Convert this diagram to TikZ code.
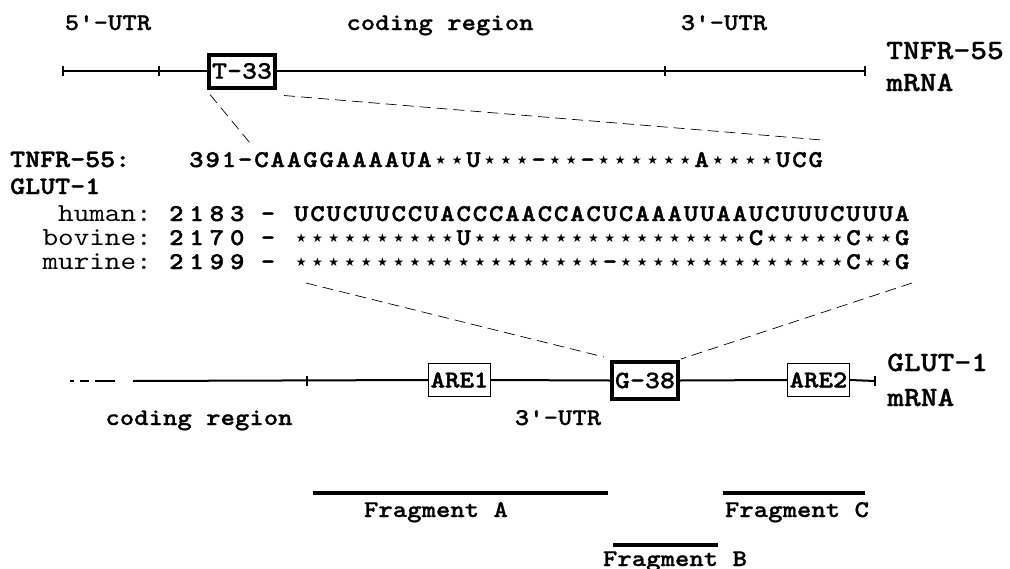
\documentclass[tikz,border=0pt]{standalone}
\usepackage{fontspec}
\newfontfamily\cb{lmmonolt10-bold}[Extension=.otf, FakeStretch=1.143, FakeBold=0.8]
\newfontfamily\cseq{lmmonolt10-bold}[Extension=.otf, FakeStretch=1.143, FakeBold=1.6]
\newfontfamily\creg{lmmono10-regular}[Extension=.otf, FakeStretch=1.143]
\newfontfamily\starfont{DejaVu Sans}
\ExplSyntaxOn
\NewDocumentCommand\bseq{mm}{\tl_map_inline:nn{#2}{\makebox[#1][c]{\str_if_eq:nnTF{##1}{*}{\raisebox{2.3pt}{\starfont\fontsize{12}{12}\selectfont ★}}{##1}}}}
\ExplSyntaxOff
\tikzset{
  lbl/.style={font=\cb\fontsize{24}{24}\selectfont, inner sep=0pt, anchor=base},
  biglbl/.style={font=\cb\fontsize{28}{28}\selectfont, inner sep=0pt, anchor=base west},
  species/.style={font=\creg\fontsize{26}{26}\selectfont, inner sep=0pt, anchor=base east},
  seqf/.style={font=\cseq\fontsize{24}{24}\selectfont, inner sep=0pt, anchor=base west},
  thickbox/.style={draw, line width=4pt, fill=white, inner sep=0pt, minimum width=66pt, minimum height=33pt, font=\cb\fontsize{25}{25}\selectfont},
  thinbox/.style={draw, line width=1.3pt, fill=white, inner sep=0pt, minimum width=62pt, minimum height=33pt, font=\cseq\fontsize{24}{24}\selectfont},
  mline/.style={line width=2pt},
  dl/.style={line width=0.7pt, dash pattern=on 11pt off 6pt},
  frag/.style={line width=4pt},
}
\begin{document}
\begin{tikzpicture}[x=1pt,y=-1pt]
\useasboundingbox (0,0) rectangle (1010,568);
% ---------- TNFR-55 mRNA ----------
\node[lbl] (utr5) at (108,30) {5\symbol{39}-UTR};
\node[lbl] (cod1) at (440,30) {coding region};
\node[lbl] (utr3) at (724,30) {3\symbol{39}-UTR};
\coordinate (t0) at (63,71);
\coordinate (t1) at (159,71);
\coordinate (t2) at (665,71);
\coordinate (t3) at (865,71);
\node[thickbox] (T33) at (242,71) {T-33};
\draw[mline] (t0) -- (T33.west);
\draw[mline] (T33.east) -- (t3);
\foreach \t in {t0,t1,t2,t3} \draw[mline] ([yshift=5pt]\t) -- ([yshift=-5pt]\t);
\node[biglbl] (tnfr) at (886,59) {TNFR-55};
\node[biglbl] (tmrna) at (886,91) {mRNA};
% ---------- alignment ----------
\node[seqf, font=\cseq\fontsize{25}{25}\selectfont] (tnfrlab) at (10,167) {TNFR-55:};
\node[seqf, font=\cseq\fontsize{25}{25}\selectfont] (glutlab) at (10,194) {GLUT-1};
\node[seqf] (tnseq) at (188,167) {\bseq{16.3pt}{391-CAAGGAAAAUA**U***-**-******A****UCG}};
\node[species] (hum) at (152,221) {human:};
\node[species] (bov) at (152,245) {bovine:};
\node[species] (mur) at (152,269) {murine:};
\node[seqf] (hn) at (166,221) {\bseq{20.3pt}{2183}};
\node[seqf] (bn) at (166,245) {\bseq{20.3pt}{2170}};
\node[seqf] (mn) at (166,269) {\bseq{20.3pt}{2199}};
\node[seqf, anchor=base] (hd) at (268,221) {-};
\node[seqf, anchor=base] (bd) at (268,245) {-};
\node[seqf, anchor=base] (md) at (268,269) {-};
\node[seqf] (hs) at (293,221) {\bseq{16.24pt}{UCUCUUCCUACCCAACCACUCAAAUUAAUCUUUCUUUA}};
\node[seqf] (bs) at (293,245) {\bseq{16.24pt}{**********U*****************C*****C**G}};
\node[seqf] (ms) at (293,269) {\bseq{16.24pt}{*******************-**************C**G}};
\coordinate (tnL) at (250,143);
\coordinate (tnR) at (822,140);
\draw[dl] ([shift={(3pt,-5pt)}]T33.south west) -- (tnL);
\draw[dl] ([shift={(7pt,-6pt)}]T33.south east) -- (tnR);
% ---------- GLUT-1 mRNA ----------
\coordinate (b0) at (70,381);
\coordinate (bA) at (123,381);
\coordinate (b1) at (133,381);
\coordinate (b2) at (307,381);
\coordinate (b3) at (875,381);
\node[thinbox] (are1) at (459.5,380) {ARE1};
\node[thickbox, minimum height=37pt] (G38) at (645,380.5) {G-38};
\node[thinbox] (are2) at (818.5,380) {ARE2};
\draw[mline, dash pattern=on 4pt off 6pt on 9pt off 6pt on 20pt off 100pt] (b0) -- (bA);
\draw[mline] (b1) -- (are1.west);
\draw[mline] (are1.east) -- (G38.west);
\draw[mline] (G38.east) -- (are2.west);
\draw[mline] (are2.east) -- (b3);
\foreach \t in {b2,b3} \draw[mline] ([yshift=5pt]\t) -- ([yshift=-5pt]\t);
\node[biglbl] (glut) at (887,371) {GLUT-1};
\node[biglbl] (gmrna) at (887,406) {mRNA};
\node[lbl] (cod2) at (199,425) {coding region};
\node[lbl] (utr3b) at (558,425) {3\symbol{39}-UTR};
\coordinate (seqL) at (306,283);
\coordinate (seqR) at (912,283);
\draw[dl] (seqL) -- ([shift={(-6pt,3pt)}]G38.north west);
\draw[dl] (seqR) -- ([shift={(1pt,1pt)}]G38.north east);
% ---------- fragments ----------
\coordinate (fa0) at (313,493); \coordinate (fa1) at (608,493);
\coordinate (fb0) at (613,545); \coordinate (fb1) at (718,545);
\coordinate (fc0) at (723,493); \coordinate (fc1) at (865,493);
\draw[frag] (fa0) -- (fa1);
\draw[frag] (fb0) -- (fb1);
\draw[frag] (fc0) -- (fc1);
\node[lbl] (fA) at (436,517) {Fragment A};
\node[lbl] (fC) at (797,517) {Fragment C};
\node[lbl] (fB) at (675,566) {Fragment B};
\end{tikzpicture}
\end{document}
